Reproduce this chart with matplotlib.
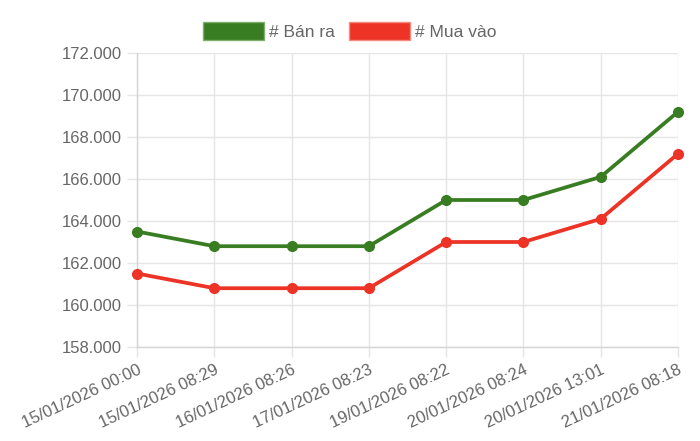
import matplotlib.pyplot as plt
from matplotlib.patches import Patch
from matplotlib.ticker import FuncFormatter, MultipleLocator

plt.rcParams["font.family"] = ["Liberation Sans", "DejaVu Sans"]

# dữ liệu
thoi_gian = [
    "15/01/2026 00:00", "15/01/2026 08:29", "16/01/2026 08:26", "17/01/2026 08:23",
    "19/01/2026 08:22", "20/01/2026 08:24", "20/01/2026 13:01", "21/01/2026 08:18",
]
ban_ra = [163500, 162800, 162800, 162800, 165000, 165000, 166100, 169200]
mua_vao = [161500, 160800, 160800, 160800, 163000, 163000, 164100, 167200]

XANH = "#387d22"
DO = "#ec3326"
CHU = "#666666"
LUOI = "#e5e5e5"

fig = plt.figure(figsize=(7, 4.41), dpi=100)
ax = fig.add_axes([137 / 700, 1 - 347 / 441, 541 / 700, 294 / 441])

x = list(range(len(thoi_gian)))
ax.plot(x, ban_ra, color=XANH, lw=2.7, marker="o", ms=7, clip_on=False, zorder=3)
ax.plot(x, mua_vao, color=DO, lw=2.7, marker="o", ms=7, clip_on=False, zorder=3)

ax.set_xlim(0, len(thoi_gian) - 1)
ax.set_ylim(158000, 172000)
ax.yaxis.set_major_locator(MultipleLocator(2000))
ax.yaxis.set_major_formatter(FuncFormatter(lambda v, p: f"{v:,.0f}".replace(",", ".")))
ax.set_xticks(x)
ax.set_xticklabels(thoi_gian, rotation=25, ha="right", rotation_mode="anchor")

ax.grid(True, color=LUOI, lw=1)
ax.set_axisbelow(True)
for s in ["top", "right"]:
    ax.spines[s].set_visible(False)
for s in ["left", "bottom"]:
    ax.spines[s].set_color("#d4d4d4")
    ax.spines[s].set_linewidth(1)
ax.tick_params(axis="both", colors=LUOI, labelcolor=CHU, labelsize=12, length=7, width=1, pad=4)

fig.legend(
    handles=[Patch(facecolor=XANH, edgecolor="#7fae6e", label="# Bán ra"),
             Patch(facecolor=DO, edgecolor="#f58a80", label="# Mua vào")],
    loc="upper center", bbox_to_anchor=(0.5, 1 - 6 / 441), ncol=2, frameon=False,
    fontsize=12.5, labelcolor=CHU, handlelength=3.5, handleheight=1.25,
    handletextpad=0.3, columnspacing=0.8,
)

fig.savefig("out.png", dpi=100)
